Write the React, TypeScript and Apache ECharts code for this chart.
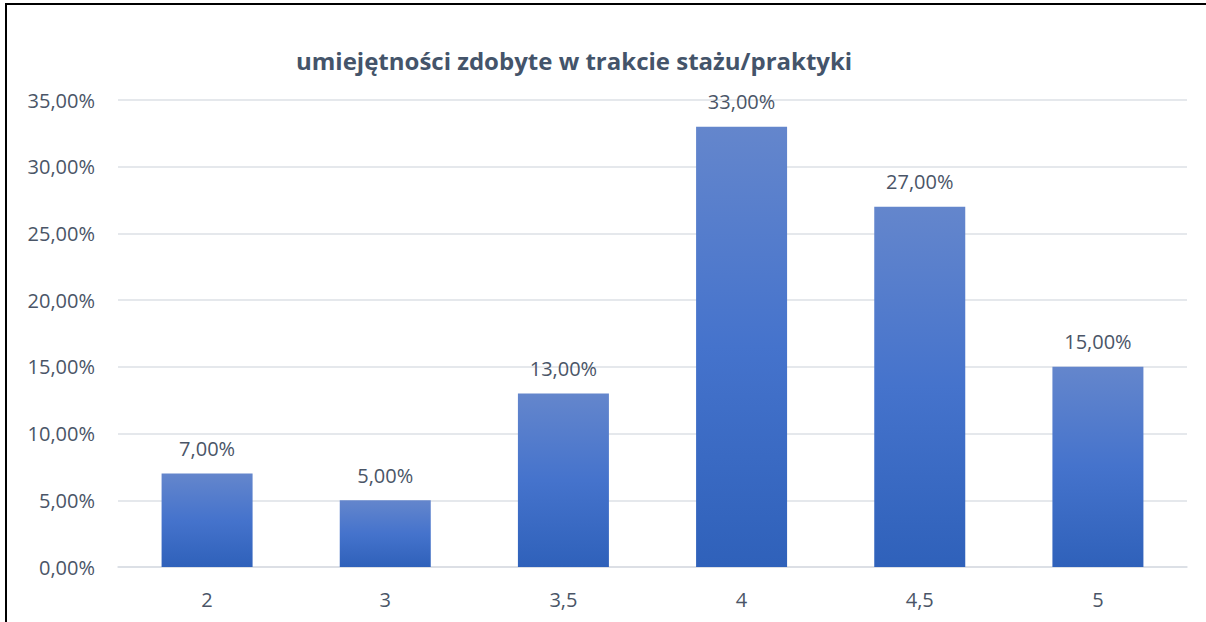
import React, { useEffect, useRef } from "react";
import * as echarts from "echarts";

const TITLE = "umiejętności zdobyte w trakcie stażu/praktyki";
const categories = ["2", "3", "3,5", "4", "4,5", "5"];
const values = [7, 5, 13, 33, 27, 15];
const Y_MIN = 0;
const Y_MAX = 35;
const Y_STEP = 5;

const fmt = (v: number) => v.toFixed(2).replace(".", ",") + "%";

export default function App() {
  const ref = useRef<HTMLDivElement>(null);
  useEffect(() => {
    document.body.style.margin = "0";
    const chart = echarts.init(ref.current!, null, { renderer: "svg" });
    const textColor = "#4A5567";
    chart.setOption({
      animation: false,
      backgroundColor: "#ffffff",
      title: {
        text: TITLE,
        left: 291,
        top: 43,
        textStyle: {
          fontFamily: "Open Sans",
          fontWeight: "bold",
          fontSize: 24,
          color: "#44546A",
        },
      },
      grid: { left: 118, right: 19, top: 100, bottom: 55 },
      xAxis: {
        type: "category",
        data: categories,
        axisLine: { show: true, lineStyle: { color: "#D9DDE3", width: 1.5 } },
        axisTick: { show: false },
        axisLabel: {
          color: textColor,
          fontFamily: "Open Sans",
          fontSize: 20,
          margin: 22,
        },
      },
      yAxis: {
        type: "value",
        min: Y_MIN,
        max: Y_MAX,
        interval: Y_STEP,
        axisLine: { show: false },
        axisTick: { show: false },
        splitLine: { lineStyle: { color: "#DDE1E6", width: 1.5 } },
        axisLabel: {
          color: textColor,
          fontFamily: "Open Sans",
          fontSize: 20,
          margin: 23,
          formatter: (v: number) => fmt(v),
        },
      },
      series: [
        {
          type: "bar",
          data: values,
          barWidth: 91,
          itemStyle: {
            color: new echarts.graphic.LinearGradient(0, 0, 0, 1, [
              { offset: 0, color: "#6486CC" },
              { offset: 0.5, color: "#4573CC" },
              { offset: 1, color: "#2F61BA" },
            ]),
          },
          label: {
            show: true,
            position: "top",
            distance: 15,
            color: textColor,
            fontFamily: "Open Sans",
            fontSize: 20,
            formatter: (p: any) => fmt(p.value),
          },
        },
      ],
      graphic: [
        {
          type: "line",
          shape: { x1: 5, y1: 4, x2: 1206, y2: 4 },
          style: { stroke: "#000", lineWidth: 2 },
        },
        {
          type: "line",
          shape: { x1: 6, y1: 3, x2: 6, y2: 622 },
          style: { stroke: "#000", lineWidth: 2 },
        },
      ],
    });
    return () => chart.dispose();
  }, []);
  return (
    <div
      ref={ref}
      style={{ position: "fixed", left: 0, top: 0, width: 1206, height: 622 }}
    />
  );
}
